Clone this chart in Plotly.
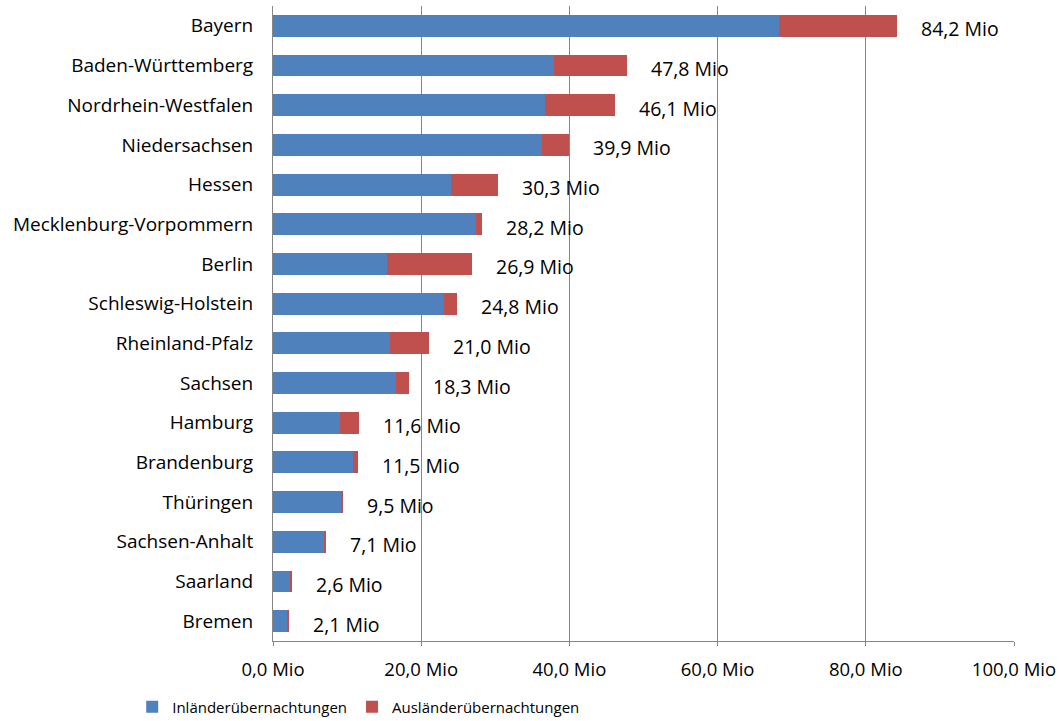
import plotly.graph_objects as go

states = ["Bayern", "Baden-Württemberg", "Nordrhein-Westfalen", "Niedersachsen", "Hessen",
          "Mecklenburg-Vorpommern", "Berlin", "Schleswig-Holstein", "Rheinland-Pfalz", "Sachsen",
          "Hamburg", "Brandenburg", "Thüringen", "Sachsen-Anhalt", "Saarland", "Bremen"]
inland = [68.3, 37.9, 36.7, 36.3, 24.0, 27.4, 15.4, 23.1, 15.8, 16.6, 9.0, 10.8, 9.3, 6.9, 2.3, 1.9]
total = [84.2, 47.8, 46.1, 39.9, 30.3, 28.2, 26.9, 24.8, 21.0, 18.3, 11.6, 11.5, 9.5, 7.1, 2.6, 2.1]
ausland = [round(t - i, 1) for t, i in zip(total, inland)]
total_labels = [f"{t:.1f}".replace(".", ",") + " Mio" for t in total]
x_ticks = [0, 20, 40, 60, 80, 100]
x_ticklabels = [f"{v:.1f}".replace(".", ",") + " Mio" for v in x_ticks]

FONT = "Open Sans"
fig = go.Figure()
fig.add_trace(go.Bar(y=states, x=inland, orientation="h", name="Inländerübernachtungen",
                     marker=dict(color="#4F81BD", line=dict(width=0))))
fig.add_trace(go.Bar(y=states, x=ausland, orientation="h", name="Ausländerübernachtungen",
                     marker=dict(color="#C0504D", line=dict(width=0))))

for s, t, lab in zip(states, total, total_labels):
    fig.add_annotation(x=t, y=s, text=lab, showarrow=False, xanchor="left", yanchor="middle",
                       xshift=22, yshift=-3, font=dict(family=FONT, size=19.5, color="#000000"))

fig.update_layout(
    barmode="stack", bargap=0.45,
    width=1059, height=721,
    margin=dict(l=273, r=45, t=6, b=80, autoexpand=False),
    plot_bgcolor="white", paper_bgcolor="white",
    font=dict(family=FONT, size=19, color="#000000"),
    showlegend=True,
    legend=dict(orientation="h", x=-0.19, xanchor="left", y=-0.104, yanchor="middle",
                font=dict(family=FONT, size=15), traceorder="normal"),
    xaxis=dict(range=[0, 100], tickvals=x_ticks, ticktext=x_ticklabels, automargin=False,
               showgrid=True, gridcolor="#868686", gridwidth=1,
               showline=True, linecolor="#868686", linewidth=1, ticks="outside",
               ticklen=4, tickcolor="#868686", zeroline=False, ticklabelstandoff=8,
               tickfont=dict(family=FONT, size=18.5)),
    yaxis=dict(categoryorder="array", categoryarray=states[::-1], showline=True, automargin=False,
               linecolor="#868686", linewidth=1, ticks="", ticklabelstandoff=15,
               tickfont=dict(family=FONT, size=19)),
)
fig.write_html("out.html", config={"displayModeBar": False},
               post_script="document.body.style.margin='0';document.body.style.padding='0';")
